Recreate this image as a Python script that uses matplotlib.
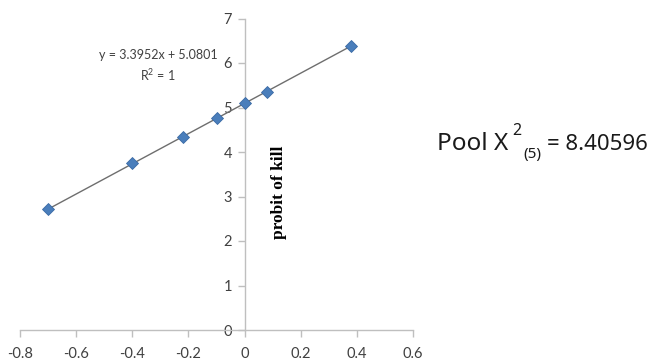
import numpy as np
import matplotlib
matplotlib.use("Agg")
import matplotlib.pyplot as plt

# Data
log_dose = [-0.70, -0.40, -0.22, -0.10, 0.00, 0.08, 0.38]
probit_kill = [2.71, 3.75, 4.34, 4.76, 5.09, 5.35, 6.39]
x_ticks = [-0.8, -0.6, -0.4, -0.2, 0, 0.2, 0.4, 0.6]
x_tick_labels = ["-0.8", "-0.6", "-0.4", "-0.2", "0", "0.2", "0.4", "0.6"]
y_ticks = [0, 1, 2, 3, 4, 5, 6, 7]
equation_text = "y = 3.3952x + 5.0801"
r2_text = "R$^2$ = 1"
y_label = "probit of kill"

plt.rcParams['axes.unicode_minus'] = False
plt.rcParams['font.family'] = ['Lato', 'DejaVu Sans']
plt.rcParams['mathtext.default'] = 'regular'

W, H = 660, 360
fig = plt.figure(figsize=(6.6, 3.6), dpi=100)
ax = fig.add_axes([20/W, 1 - 330/H, (413-20)/W, (330-18.5)/H])
ax.set_xlim(-0.8, 0.6)
ax.set_ylim(0, 7)

# Trendline from least squares fit
coef = np.polyfit(log_dose, probit_kill, 1)
xl = np.array([min(log_dose), max(log_dose)])
ax.plot(xl, np.polyval(coef, xl), color='#6e6e6e', lw=1.0, zorder=2)
ax.plot(log_dose, probit_kill, linestyle='none', marker='D', markersize=6.2,
        markerfacecolor='#4a7ebb', markeredgecolor='#3a6aa5', markeredgewidth=0.6, zorder=3)

spine_c = '#bfbfbf'
for s in ['top', 'right']:
    ax.spines[s].set_visible(False)
ax.spines['left'].set_position(('data', 0))
ax.spines['left'].set_color(spine_c)
ax.spines['bottom'].set_color(spine_c)
ax.spines['left'].set_linewidth(1.0)
ax.spines['bottom'].set_linewidth(1.0)

ax.set_xticks(x_ticks)
ax.set_xticklabels(x_tick_labels)
ax.set_yticks(y_ticks)
ax.tick_params(axis='both', colors=spine_c, labelcolor='#404040', labelsize=10.5,
               length=5, width=1.0, direction='out')
ax.tick_params(axis='x', pad=7)
ax.tick_params(axis='y', pad=4)

ax.text(-0.309, 6.18, equation_text, ha='center', va='center', fontsize=9, color='#404040')
ax.text(-0.309, 5.73, r2_text, ha='center', va='center', fontsize=9, color='#404040')
ax.text(0.122, 3.1, y_label, rotation=90, ha='center', va='center', fontsize=12.5,
        fontweight='bold', family='Liberation Serif', color='black')

# Pool chi-square text
tc = '#1a1a1a'
fig.text(437/W, 1 - 150/H, "Pool X", fontsize=17.5, family='Noto Sans', color=tc,
         ha='left', va='baseline')
fig.text(512/W, 1 - 135/H, "2", fontsize=11.5, family='Noto Sans', color=tc,
         ha='left', va='baseline')
fig.text(523/W, 1 - 158/H, "(5)", fontsize=11, family='Noto Sans', color=tc,
         ha='left', va='baseline')
fig.text(547/W, 1 - 150/H, "= 8.40596", fontsize=16, family='Noto Sans', color=tc,
         ha='left', va='baseline')

fig.savefig("out.png", dpi=100)
